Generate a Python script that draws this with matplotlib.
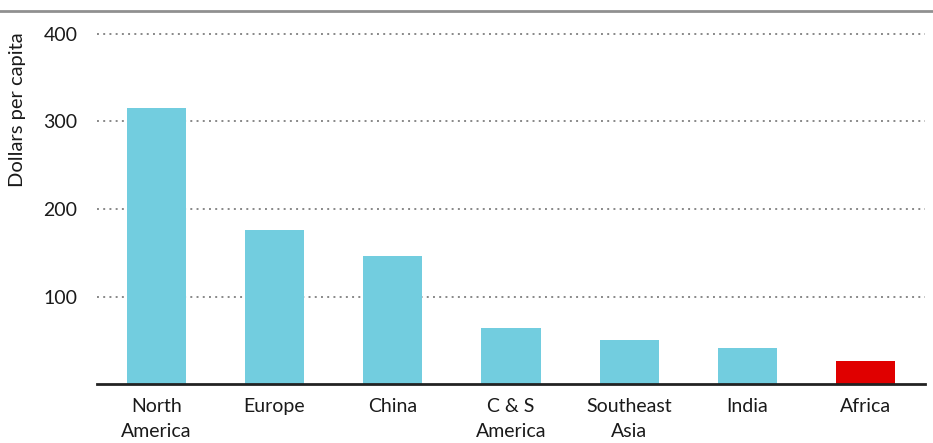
import matplotlib.pyplot as plt
from matplotlib.lines import Line2D

regions = ['North\nAmerica', 'Europe', 'China', 'C & S\nAmerica', 'Southeast\nAsia', 'India', 'Africa']
dollars = [315, 176, 146, 64, 50, 41, 26]
yticks = [100, 200, 300, 400]

blue = '#72CDDF'
red = '#E00000'
colors = [blue] * 6 + [red]

plt.rcParams['font.family'] = ['Lato', 'DejaVu Sans']

fig = plt.figure(figsize=(9.33, 4.43), dpi=100)
W, H = 933, 443
# axes: x 97..925 px, y 384 (0) .. 34 (400)
ax = fig.add_axes([97 / W, (H - 384) / H, (925 - 97) / W, (384 - 30) / H])

x = range(len(regions))
ax.bar(x, dollars, width=0.5, color=colors, zorder=3)

ax.set_xlim(-0.5, len(regions) - 0.5)
ax.set_ylim(0, 400 * 354 / 350)
ax.set_yticks(yticks)
ax.set_yticklabels([str(v) for v in yticks], fontsize=14, color='#1a1a1a')
ax.set_xticks(list(x))
ax.set_xticklabels(regions, fontsize=14, color='#1a1a1a', linespacing=1.55, va='top')
ax.tick_params(axis='both', length=0)
ax.tick_params(axis='y', pad=14)
ax.tick_params(axis='x', pad=10)

ax.grid(axis='y', color='#888888', linestyle=(0, (1, 2.2)), linewidth=1.4, zorder=0)

for s in ['top', 'right', 'left']:
    ax.spines[s].set_visible(False)
ax.spines['bottom'].set_color('#222222')
ax.spines['bottom'].set_linewidth(2)
ax.spines['bottom'].set_zorder(4)

fig.text(18 / W, 1 - 110 / H, 'Dollars per capita', rotation=90, ha='center', va='center',
         fontsize=14.5, color='#1a1a1a')

fig.add_artist(Line2D([0, 1], [1 - 11 / H, 1 - 11 / H], color='#909090', linewidth=2,
                      transform=fig.transFigure))

fig.savefig('out.png', dpi=100)
